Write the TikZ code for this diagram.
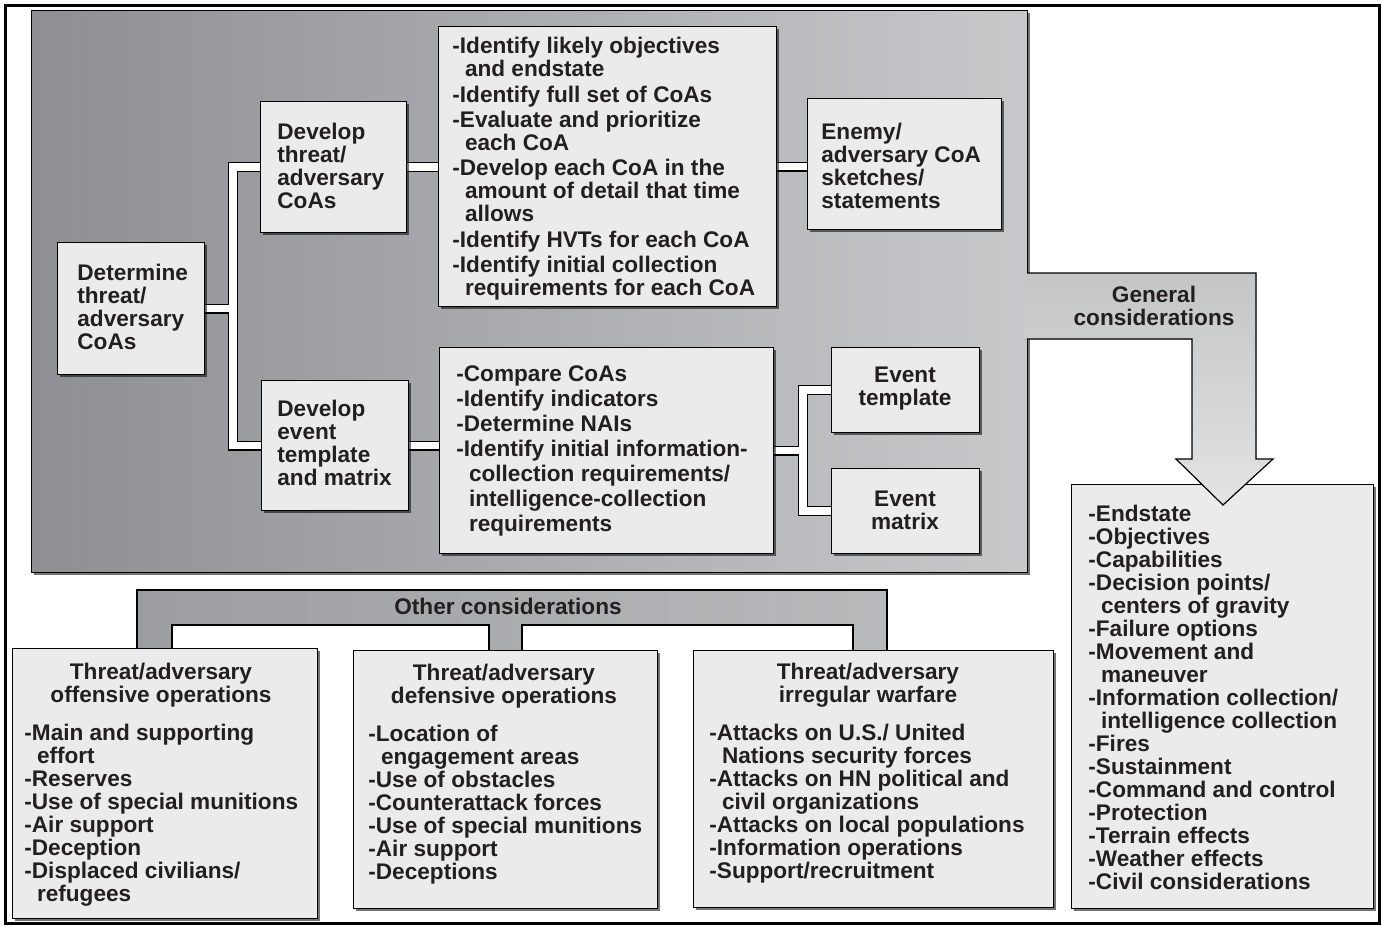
\documentclass[tikz,border=0pt]{standalone}
\usepackage{fontspec}
\setmainfont{Liberation Sans}
\usetikzlibrary{shadows}
\definecolor{boxfill}{HTML}{EBEBEC}
\definecolor{txt}{HTML}{231F20}
\definecolor{panelL}{HTML}{8E8F93}
\definecolor{panelR}{HTML}{C8C9CB}
\definecolor{gcTop}{HTML}{C4C5C7}
\definecolor{gcBot}{HTML}{E2E3E4}
\definecolor{ocL}{HTML}{9C9DA0}
\definecolor{ocR}{HTML}{B9BABC}
\newcommand\ind{\hspace*{6.3pt}}
\pgfdeclarelayer{bg}
\pgfdeclarelayer{conn}
\pgfsetlayers{bg,conn,main}
\begin{document}
\begin{tikzpicture}[x=0.5pt,y=-0.5pt,
  shadowed/.style={drop shadow={shadow xshift=1.3pt,shadow yshift=-1.3pt,fill=black,opacity=0.55}},
  boxshape/.style={draw=black, line width=0.6pt, fill=boxfill, shadowed, inner sep=0, anchor=north west},
  lbl/.style={inner sep=0, text=txt, font=\fontsize{11.3pt}{11.5pt}\selectfont\bfseries, align=left, anchor=north west},
  clbl/.style={lbl, align=center, anchor=north},
  connout/.style={line width=5pt, draw=black},
  connin/.style={line width=3.8pt, draw=white},
]
\useasboundingbox (0,0) rectangle (1382,926);

\begin{pgfonlayer}{bg}
  \draw[line width=1.5pt] (5,5) rectangle (1379,923);
  \node[draw=black, line width=0.6pt, left color=panelL, right color=panelR, shadowed,
        minimum width=498pt, minimum height=281pt, anchor=north west, inner sep=0] (panel) at (31,10) {};
  \path[draw=black, line width=0.6pt, left color=ocL, right color=ocR]
    (137,652) -- (137,590) -- (887,590) -- (887,652) -- (853,652) -- (853,625)
    -- (522,625) -- (522,652) -- (489,652) -- (489,625) -- (172,625) -- (172,652) -- cycle;
\end{pgfonlayer}

% boxes in the panel
\node[boxshape, minimum width=73.5pt, minimum height=66pt] (det) at (57,242) {};
\node[boxshape, minimum width=73pt, minimum height=65.5pt] (dev1) at (260,101) {};
\node[boxshape, minimum width=169pt, minimum height=140pt] (list1) at (438,26) {};
\node[boxshape, minimum width=97pt, minimum height=65.5pt] (enemy) at (807,98) {};
\node[boxshape, minimum width=73.5pt, minimum height=65pt] (dev2) at (261,380) {};
\node[boxshape, minimum width=167pt, minimum height=103pt] (list2) at (439,347) {};
\node[boxshape, minimum width=74pt, minimum height=42.5pt] (evt) at (831,347) {};
\node[boxshape, minimum width=74pt, minimum height=42.5pt] (evm) at (831,468) {};

% lower boxes
\node[boxshape, minimum width=151pt, minimum height=212pt] (gcbox) at (1071,484) {};
\node[boxshape, minimum width=152.5pt, minimum height=135pt] (off) at (12,648) {};
\node[boxshape, minimum width=152pt, minimum height=129pt] (def) at (353,650) {};
\node[boxshape, minimum width=180pt, minimum height=128.5pt] (irr) at (693,650) {};

% general considerations arrow
\fill[top color=gcTop, bottom color=gcBot]
  (1024,273) -- (1256,273) -- (1256,459) -- (1273,459) -- (1223,505) -- (1176,459)
  -- (1192,459) -- (1192,339) -- (1024,339) -- cycle;
\draw[line width=0.6pt, line join=miter]
  (1027,273) -- (1256,273) -- (1256,459) -- (1273,459) -- (1223,505) -- (1176,459)
  -- (1192,459) -- (1192,339) -- (1027,339);

% connectors
\path (det.east) ++(28,0) coordinate (j1);
\path (list2.east) ++(29,0) coordinate (j2);
\begin{pgfonlayer}{conn}
  \foreach \s in {connout,connin}{
    \draw[\s] (det.east) -- (j1);
    \draw[\s] (dev1.west) -| (j1) |- (dev2.west);
    \draw[\s] (dev1.east) -- (dev1.east -| list1.west);
    \draw[\s] (list1.east) -- (list1.east -| enemy.west);
    \draw[\s] (dev2.east) -- (dev2.east -| list2.west);
    \draw[\s] (list2.east) -- (j2);
    \draw[\s] (evt.west) -| (j2) |- (evm.west);
  }
\end{pgfonlayer}

% texts
\node[lbl] (tdet) at (77,264) {Determine\\threat/\\adversary\\CoAs};
\node[lbl] (tdev1) at (277,123) {Develop\\threat/\\adversary\\CoAs};
\node[lbl] (tlist1) at (452,37) {-Identify likely objectives\\
\ind and endstate\\[1.2pt]
-Identify full set of CoAs\\[1.2pt]
-Evaluate and prioritize\\
\ind each CoA\\[1.2pt]
-Develop each CoA in the\\
\ind amount of detail that time\\
\ind allows\\[1.2pt]
-Identify HVTs for each CoA\\[1.2pt]
-Identify initial collection\\
\ind requirements for each CoA};
\node[lbl] (tenemy) at (821,123) {Enemy/\\adversary CoA\\sketches/\\statements};
\node[lbl] (tdev2) at (277,400) {Develop\\event\\template\\and matrix};
\node[lbl, font=\fontsize{11.3pt}{12.5pt}\selectfont\bfseries] (tlist2) at (456,365) {-Compare CoAs\\
-Identify indicators\\
-Determine NAIs\\
-Identify initial information-\\
\ind collection requirements/\\
\ind intelligence-collection\\
\ind requirements};
\node[clbl] (tevt) at (905,367) {Event\\template};
\node[clbl] (tevm) at (905,491) {Event\\matrix};
\node[clbl] (tgc) at (1154,286) {General\\considerations};
\node[clbl] (toc) at (508,598) {Other considerations};

\node[lbl] (tgcl) at (1088,505) {-Endstate\\-Objectives\\-Capabilities\\-Decision points/\\\ind centers of gravity\\-Failure options\\-Movement and\\\ind maneuver\\-Information collection/\\\ind intelligence collection\\-Fires\\-Sustainment\\-Command and control\\-Protection\\-Terrain effects\\-Weather effects\\-Civil considerations};

\node[clbl] (toffh) at (161,663) {Threat/adversary\\offensive operations};
\node[lbl] (toffl) at (24,724) {-Main and supporting\\\ind effort\\-Reserves\\-Use of special munitions\\-Air support\\-Deception\\-Displaced civilians/\\\ind refugees};

\node[clbl] (tdefh) at (504,664) {Threat/adversary\\defensive operations};
\node[lbl] (tdefl) at (368,725) {-Location of\\\ind engagement areas\\-Use of obstacles\\-Counterattack forces\\-Use of special munitions\\-Air support\\-Deceptions};

\node[clbl] (tirrh) at (868,663) {Threat/adversary\\irregular warfare};
\node[lbl] (tirrl) at (709,724) {-Attacks on U.S./ United\\\ind Nations security forces\\-Attacks on HN political and\\\ind civil organizations\\-Attacks on local populations\\-Information operations\\-Support/recruitment};
\end{tikzpicture}
\end{document}
